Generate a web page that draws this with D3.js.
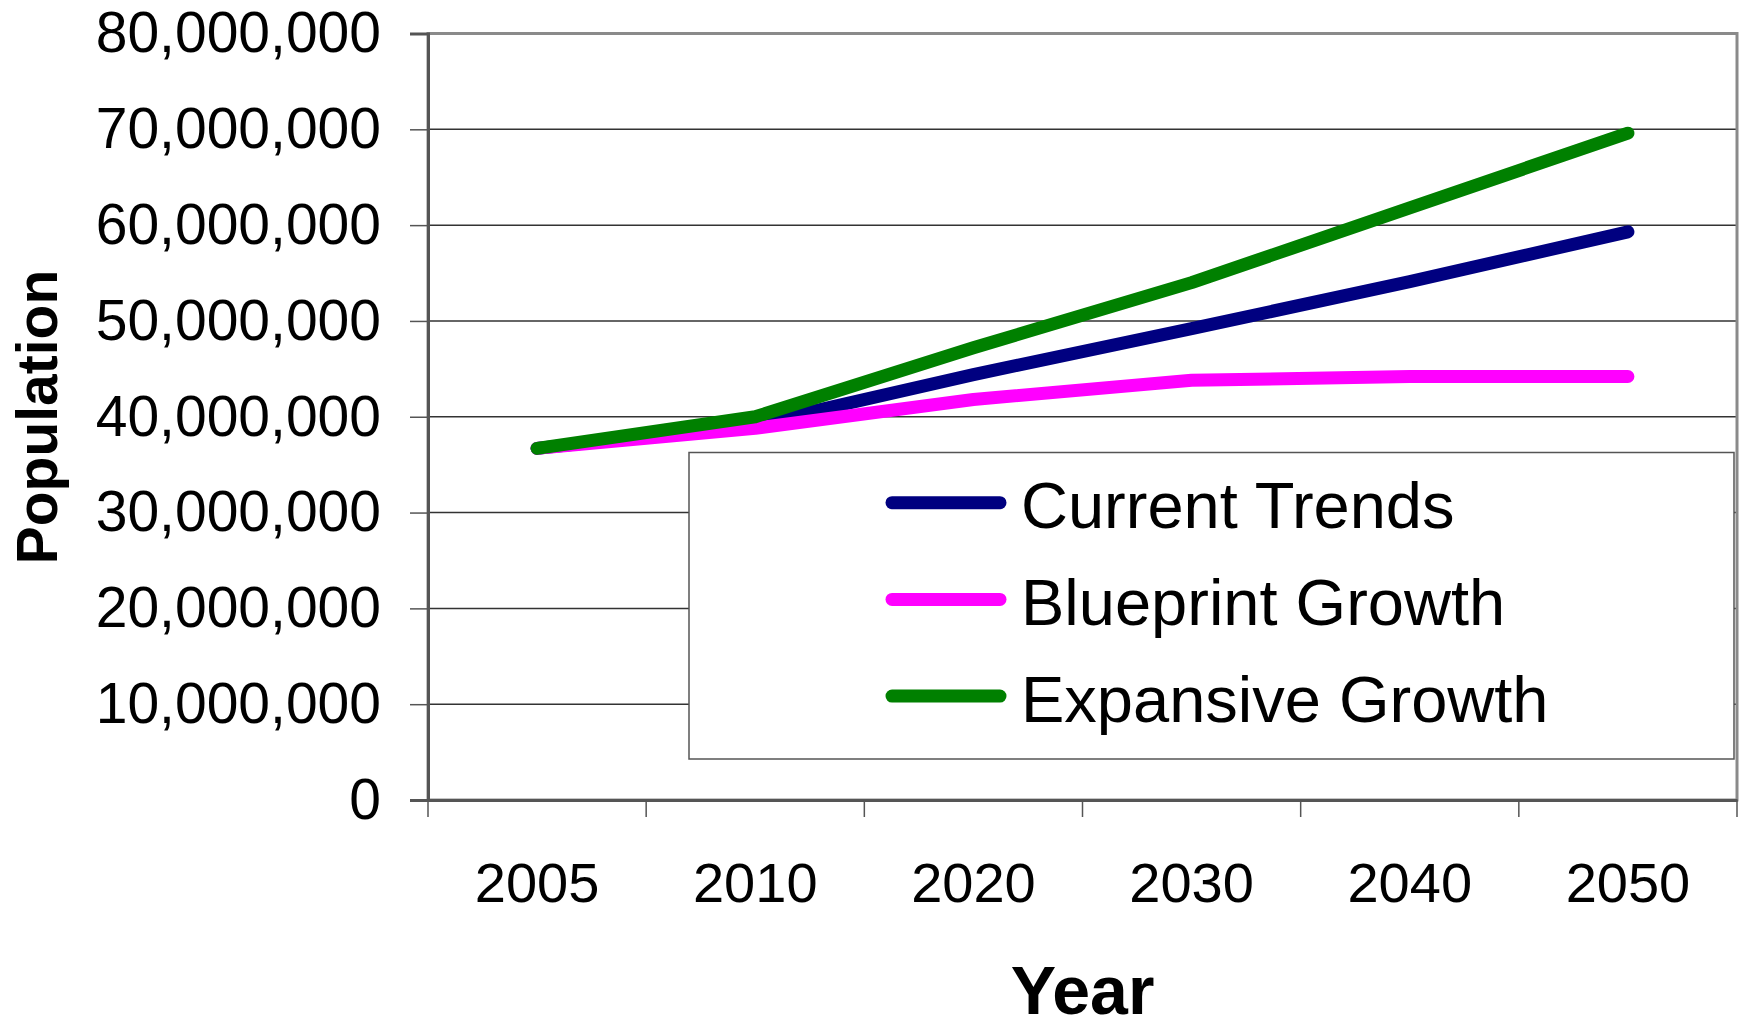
<!DOCTYPE html>
<html>
<head>
<meta charset="utf-8">
<script src="https://cdn.jsdelivr.net/npm/d3@7"></script>
<style>
  html, body { margin: 0; padding: 0; background: #fff; }
  svg { display: block; font-family: "Liberation Sans", Arial, sans-serif; }
</style>
</head>
<body>
<svg id="chart" width="1739" height="1029"></svg>
<script>
// Population projections by scenario
const years = ["2005", "2010", "2020", "2030", "2040", "2050"];
const seriesNames = ["Current Trends", "Blueprint Growth", "Expansive Growth"];
const currentTrends   = [36.7e6, 39.2e6, 44.4e6, 49.2e6, 54.1e6, 59.3e6];
const blueprintGrowth = [36.7e6, 38.8e6, 41.8e6, 43.8e6, 44.2e6, 44.2e6];
const expansiveGrowth = [36.7e6, 40.0e6, 47.2e6, 54.0e6, 61.8e6, 69.6e6];
const yTicks = [0, 10e6, 20e6, 30e6, 40e6, 50e6, 60e6, 70e6, 80e6];
const colors = ["#000080", "#FF00FF", "#008000"];

const series = [currentTrends, blueprintGrowth, expansiveGrowth].map((vals, i) => ({
  name: seriesNames[i], color: colors[i], values: vals
}));

const svg = d3.select("#chart");
const plot = { left: 428, right: 1737, top: 33.5, bottom: 800 };

const x = d3.scaleBand().domain(years).range([plot.left, plot.right]).paddingInner(0).paddingOuter(0);
const y = d3.scaleLinear().domain([0, 80e6]).range([plot.bottom, plot.top]);
const cx = d => x(d) + x.bandwidth() / 2;

// plot background
svg.append("rect")
  .attr("x", plot.left).attr("y", plot.top)
  .attr("width", plot.right - plot.left).attr("height", plot.bottom - plot.top)
  .attr("fill", "#fff");

// horizontal gridlines
svg.append("g")
  .selectAll("line")
  .data(yTicks.filter(v => v > 0 && v < 80e6))
  .join("line")
  .attr("x1", plot.left).attr("x2", plot.right)
  .attr("y1", d => y(d)).attr("y2", d => y(d))
  .attr("stroke", "#333").attr("stroke-width", 1.5);

// plot frame
svg.append("rect")
  .attr("x", plot.left).attr("y", plot.top)
  .attr("width", plot.right - plot.left).attr("height", plot.bottom - plot.top)
  .attr("fill", "none").attr("stroke", "#8a8a8a").attr("stroke-width", 3);

// y axis
const yAxis = svg.append("g")
  .attr("transform", `translate(${plot.left},0)`)
  .call(d3.axisLeft(y).tickValues(yTicks).tickFormat(d3.format(",")).tickSize(18).tickPadding(29));
yAxis.select(".domain").attr("stroke", "#555").attr("stroke-width", 3);
yAxis.selectAll(".tick line").attr("stroke", "#555").attr("stroke-width", 1.5);
yAxis.selectAll(".tick text")
  .attr("fill", "#000")
  .style("font-size", "57px")
  .style("font-family", "'Liberation Sans', Arial, sans-serif");

// x axis: labels centred in each category, ticks on category boundaries
const xAxis = svg.append("g")
  .attr("transform", `translate(0,${plot.bottom})`)
  .call(d3.axisBottom(x).tickSize(0).tickPadding(62));
xAxis.select(".domain").attr("stroke", "#555").attr("stroke-width", 3);
xAxis.selectAll(".tick text")
  .attr("fill", "#000")
  .style("font-size", "56px")
  .style("font-family", "'Liberation Sans', Arial, sans-serif");

const boundaries = years.map(d => x(d)).concat([x(years[years.length - 1]) + x.bandwidth()]);
svg.append("g")
  .selectAll("line")
  .data(boundaries)
  .join("line")
  .attr("x1", d => d).attr("x2", d => d)
  .attr("y1", plot.bottom).attr("y2", plot.bottom + 17)
  .attr("stroke", "#555").attr("stroke-width", 1.5);

// series lines
const line = d3.line()
  .x((d, i) => cx(years[i]))
  .y(d => y(d));

svg.append("g")
  .selectAll("path")
  .data(series)
  .join("path")
  .attr("d", d => line(d.values))
  .attr("fill", "none")
  .attr("stroke", d => d.color)
  .attr("stroke-width", 13)
  .attr("stroke-linecap", "round")
  .attr("stroke-linejoin", "round");

// legend
const legend = svg.append("g");
legend.append("rect")
  .attr("x", 689).attr("y", 452.5)
  .attr("width", 1045).attr("height", 306.5)
  .attr("fill", "#fff").attr("stroke", "#555").attr("stroke-width", 1.5);

const item = legend.selectAll("g.item")
  .data(series)
  .join("g")
  .attr("class", "item")
  .attr("transform", (d, i) => `translate(0,${502.7 + i * 96.7})`);

item.append("line")
  .attr("x1", 892).attr("x2", 1000)
  .attr("y1", 0).attr("y2", 0)
  .attr("stroke", d => d.color)
  .attr("stroke-width", 13)
  .attr("stroke-linecap", "round");

item.append("text")
  .attr("x", 1021).attr("y", 25.6)
  .attr("fill", "#000")
  .style("font-size", "65px")
  .text(d => d.name);

// axis titles
svg.append("text")
  .attr("x", (plot.left + plot.right) / 2).attr("y", 1014)
  .attr("text-anchor", "middle")
  .style("font-size", "68px").style("font-weight", "bold")
  .text("Year");

svg.append("text")
  .attr("transform", "translate(57,417) rotate(-90)")
  .attr("text-anchor", "middle")
  .style("font-size", "57px").style("font-weight", "bold")
  .text("Population");
</script>
</body>
</html>
